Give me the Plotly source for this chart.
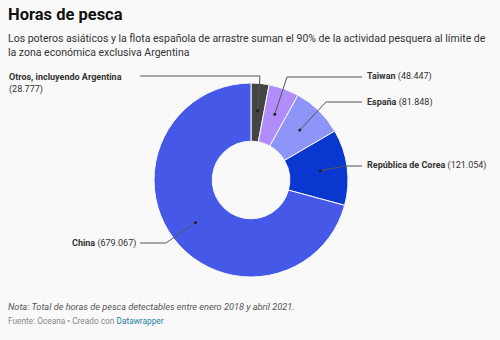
import math
import plotly.graph_objects as go

labels = ["Otros, incluyendo Argentina", "Taiwan", "España", "República de Corea", "China"]
values = [28777, 48447, 81848, 121054, 679067]
value_text = ["28.777", "48.447", "81.848", "121.054", "679.067"]
colors = ["#444444", "#b18dfb", "#8d95f9", "#0a37cf", "#4558e8"]

W, H = 500, 340
BG = "#f9f9f9"

def px(x):
    return x / W

def py(y):
    return 1 - y / H

# pie geometry (pixels)
cx, cy, R = 251, 180, 97
hole = 0.4

fig = go.Figure()
fig.add_trace(go.Pie(
    labels=labels, values=values, sort=False, direction="clockwise", rotation=0,
    hole=hole, marker=dict(colors=colors, line=dict(color=BG, width=1)),
    textinfo="none", hoverinfo="skip", showlegend=False,
    domain=dict(x=[px(cx - R), px(cx + R)], y=[py(cy + R), py(cy - R)]),
))

# dot positions from data
total = sum(values)
dots = []
cum = 0
for v in values:
    mid = (cum + v / 2) / total * 2 * math.pi
    cum += v
    r = 0.72 * R
    dots.append((cx + r * math.sin(mid), cy - r * math.cos(mid)))

# leader layout: (elbow x, elbow y, end x)
leaders = [(260, 76, 140), (287, 77, 362), (326, 102, 362), (345, 166, 362), (166, 243, 140)]

shapes = []
for (dx, dy), (ex, ey, endx) in zip(dots, leaders):
    shapes.append(dict(type="path", xref="paper", yref="paper",
                       path=f"M {px(dx)} {py(dy)} L {px(ex)} {py(ey)} L {px(endx)} {py(ey)}",
                       line=dict(color="#555555", width=1)))
    shapes.append(dict(type="circle", xref="paper", yref="paper",
                       x0=px(dx - 1.5), x1=px(dx + 1.5), y0=py(dy + 1.5), y1=py(dy - 1.5),
                       fillcolor="#222222", line=dict(width=0)))

ann = []
font_lbl = dict(family="Roboto", size=9, color="#333333")
# Otros
ann.append(dict(x=px(7), y=py(70), xref="paper", yref="paper", xanchor="left", yanchor="top",
                align="left", showarrow=False, font=font_lbl,
                text=f"<b>{labels[0]}</b><br>({value_text[0]})"))
for i, yy in zip([1, 2, 3], [77, 102, 165]):
    ann.append(dict(x=px(365), y=py(yy), xref="paper", yref="paper", xanchor="left", yanchor="middle",
                    showarrow=False, font=font_lbl, text=f"<b>{labels[i]}</b> ({value_text[i]})"))
ann.append(dict(x=px(138), y=py(243), xref="paper", yref="paper", xanchor="right", yanchor="middle",
                showarrow=False, font=font_lbl, text=f"<b>{labels[4]}</b> ({value_text[4]})"))

# titles
ann.append(dict(x=px(6), y=py(15), xref="paper", yref="paper", xanchor="left", yanchor="middle",
                showarrow=False, font=dict(family="Roboto", size=16.5, color="#111111"),
                text="<b>Horas de pesca</b>"))
ann.append(dict(x=px(6), y=py(30), xref="paper", yref="paper", xanchor="left", yanchor="top",
                align="left", showarrow=False, font=dict(family="Roboto", size=10.5, color="#333333"),
                text="Los poteros asiáticos y la flota española de arrastre suman el 90% de la actividad pesquera al límite de<br>la zona económica exclusiva Argentina"))
ann.append(dict(x=px(6), y=py(306), xref="paper", yref="paper", xanchor="left", yanchor="middle",
                showarrow=False, font=dict(family="Roboto", size=9.2, color="#555555"),
                text="<i>Nota: Total de horas de pesca detectables entre enero 2018 y abril 2021.</i>"))
ann.append(dict(x=px(6), y=py(321), xref="paper", yref="paper", xanchor="left", yanchor="middle",
                showarrow=False, font=dict(family="Roboto", size=8.3, color="#888888"),
                text="Fuente: Oceana • Creado con <span style='color:#1d81a2'>Datawrapper</span>"))

fig.update_layout(width=W, height=H, margin=dict(l=0, r=0, t=0, b=0),
                  paper_bgcolor=BG, plot_bgcolor=BG, shapes=shapes, annotations=ann)
fig.write_html("out.html")
